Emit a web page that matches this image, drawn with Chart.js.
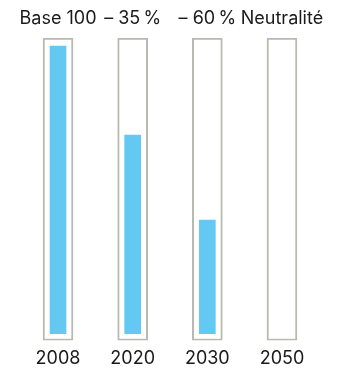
<!DOCTYPE html>
<html>
<head>
<meta charset="utf-8">
<script src="https://cdn.jsdelivr.net/npm/chart.js@4.4.1/dist/chart.umd.min.js"></script>
<style>
  html, body { margin: 0; padding: 0; background: #fff; }
  #wrap { width: 340px; height: 374px; }
</style>
</head>
<body>
<div id="wrap"><canvas id="chart"></canvas></div>
<script>
// chart data
const years = ["2008", "2020", "2030", "2050"];
const targets = ["Base 100", "– 35\u2009%", "– 60\u2009%", "Neutralité"];
const values = [100, 69, 39.5, 0];
const frameRange = [-2.4, 102.8];

const frames = years.map(() => frameRange);

// fixed axis heights, no extra side padding from the labels
function fitAxis(height) {
  return (scale) => {
    scale.paddingLeft = 0;
    scale.paddingRight = 0;
    scale.height = height;
  };
}

const ctx = document.getElementById("chart").getContext("2d");

new Chart(ctx, {
  type: "bar",
  data: {
    labels: years,
    datasets: [
      {
        label: "valeur",
        data: values,
        backgroundColor: (c) => (c.raw > 0 ? "#63c8f2" : "rgba(0,0,0,0)"),
        borderWidth: 0,
        barThickness: 16,
        grouped: false,
        order: 0,
      },
      {
        label: "cadre",
        data: frames,
        backgroundColor: "#ffffff",
        borderColor: "#b9b9b1",
        borderWidth: 2,
        borderSkipped: false,
        barThickness: 30,
        grouped: false,
        order: 1,
      },
    ],
  },
  options: {
    responsive: true,
    maintainAspectRatio: false,
    animation: false,
    layout: {
      padding: { left: 20.7, right: 20.7, top: 0, bottom: 0 },
    },
    plugins: {
      legend: { display: false },
      tooltip: { enabled: false },
    },
    scales: {
      x: {
        position: "bottom",
        grid: { display: false, drawTicks: false },
        border: { display: false },
        ticks: {
          color: "#1a1a1a",
          padding: 7.5,
          maxRotation: 0,
          autoSkip: false,
          font: { family: "Inter", size: 18 },
        },
        afterFit: fitAxis(33.5),
      },
      x2: {
        position: "top",
        labels: targets,
        grid: { display: false, drawTicks: false },
        border: { display: false },
        ticks: {
          color: "#1a1a1a",
          padding: 8.2,
          maxRotation: 0,
          minRotation: 0,
          autoSkip: false,
          font: { family: "Inter", size: 18 },
        },
        afterFit: fitAxis(38),
      },
      y: {
        display: false,
        min: frameRange[0],
        max: frameRange[1],
      },
    },
  },
});
</script>
</body>
</html>
